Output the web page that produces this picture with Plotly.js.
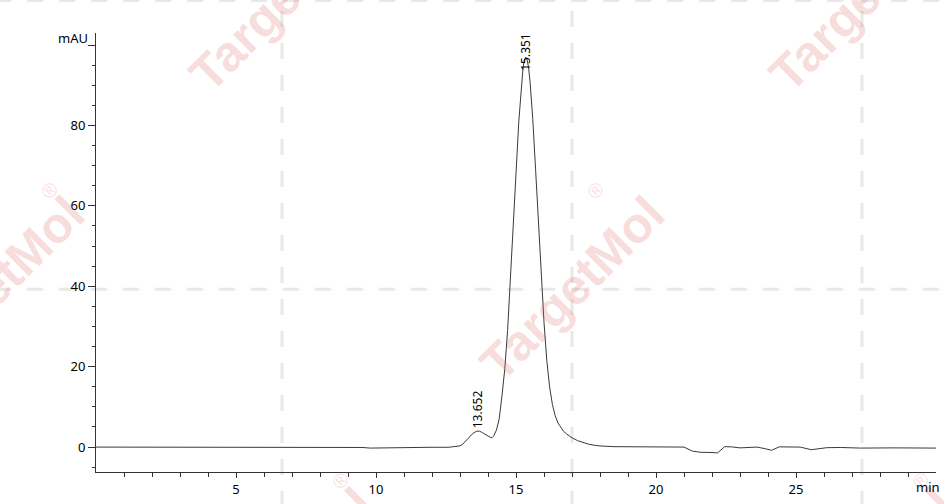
<!DOCTYPE html>
<html>
<head>
<meta charset="utf-8">
<script src="https://cdn.plot.ly/plotly-3.0.1.min.js"></script>
<style>
  html, body { margin: 0; padding: 0; background: #ffffff; }
  #chart { width: 944px; height: 504px; }
</style>
</head>
<body>
<div id="chart"></div>
<script>
// ---- data ----
var timeMin = [0, 2.9, 3.0, 3.6, 5, 9.5, 9.8, 10.3, 10.6, 12.0, 12.6, 12.9, 13.0, 13.1, 13.2, 13.3, 13.4, 13.5, 13.6, 13.65, 13.7, 13.8, 13.9, 14.0, 14.1, 14.15, 14.2, 14.3, 14.4, 14.5, 14.6, 14.7, 14.8, 14.9, 15.0, 15.1, 15.2, 15.25, 15.3, 15.35, 15.4, 15.45, 15.5, 15.6, 15.7, 15.8, 15.9, 16.0, 16.1, 16.2, 16.3, 16.4, 16.5, 16.6, 16.7, 16.8, 16.9, 17.0, 17.2, 17.4, 17.6, 17.8, 18.0, 18.5, 19.0, 20.0, 21.0, 21.3, 21.6, 22.0, 22.2, 22.45, 22.7, 23.0, 23.3, 23.6, 23.9, 24.13, 24.4, 24.8, 25.15, 25.55, 25.8, 26.1, 26.6, 27.3, 28.5, 30];
var signalMAU = [0, 0, -0.05, -0.1, -0.1, -0.1, -0.25, -0.2, -0.05, -0.05, -0.05, 0.1, 0.3, 0.75, 1.4, 2.2, 3.0, 3.6, 3.95, 4.0, 3.95, 3.6, 3.15, 2.7, 2.35, 2.35, 2.7, 4.2, 7.0, 12.8, 19.5, 29.0, 41.0, 54.0, 68.0, 81.0, 90.6, 94.3, 96.3, 97.0, 96.3, 94.3, 91.0, 81.5, 69.0, 55.5, 42.5, 31.0, 21.5, 15.0, 10.6, 7.8, 6.0, 4.8, 3.9, 3.3, 2.75, 2.3, 1.6, 1.05, 0.7, 0.45, 0.28, 0.1, 0.05, 0.0, 0.0, -1.0, -1.3, -1.35, -1.45, 0.1, 0.05, -0.2, -0.1, 0.0, -0.4, -0.8, 0.05, 0.05, 0.0, -0.65, -0.35, -0.15, -0.1, -0.25, -0.2, -0.25];

var peakTimes = [13.652, 15.351];
var peakLabels = ['13.652', '15.351'];
var peakLabelY = [4.0, 94.3];
var peakLabelShift = [1, -5];

var xTickVals = [5, 10, 15, 20, 25];
var xTickText = ['5', '10', '15', '20', '25'];
var xMinorVals = [1,2,3,4,6,7,8,9,11,12,13,14,16,17,18,19,21,22,23,24,26,27,28,29];
var yTickVals = [0, 20, 40, 60, 80, 100];
var yTickText = ['0', '20', '40', '60', '80', ''];
var yMinorVals = [-5,5,10,15,25,30,35,45,50,55,65,70,75,85,90,95];
var xUnit = 'min';
var yUnit = 'mAU';

// ---- watermark decoration (paper coordinates) ----
var wmX = [0.2214, 0.5667, 0.9119, -0.1238, 0.2214, 0.9119];
var wmY = [1.0775, 0.4165, 1.0775, 0.4165, -0.2450, -0.2450];
var regX = [0.5952, -0.0548, 0.2905, 0.9810];
var regY = [0.6422, 0.6422, -0.0194, -0.0194];
var gridVX = [0.22143, 0.56667, 0.91190];
var gridHY = [0.4165, 1.0741];

var wmColor = 'rgba(225,110,110,0.23)';
var shapes = [];
gridVX.forEach(function (gx) {
  shapes.push({type: 'line', xref: 'paper', yref: 'paper', x0: gx, x1: gx, y0: -0.08, y1: 1.08,
    layer: 'below', line: {color: '#e8e8e8', width: 3, dash: '16px,16px'}});
});
gridHY.forEach(function (gy) {
  shapes.push({type: 'line', xref: 'paper', yref: 'paper', x0: -0.12, x1: 1.02, y0: gy, y1: gy,
    layer: 'below', line: {color: '#e8e8e8', width: 3, dash: '16px,16px'}});
});

var annotations = [];
wmX.forEach(function (x, i) {
  annotations.push({xref: 'paper', yref: 'paper', x: x, y: wmY[i], text: '<b>TargetMol</b>',
    showarrow: false, textangle: -45, xanchor: 'center', yanchor: 'middle',
    font: {family: 'Liberation Sans, Arial, sans-serif', size: 50, color: wmColor}});
});
regX.forEach(function (x, i) {
  annotations.push({xref: 'paper', yref: 'paper', x: x, y: regY[i], text: '®',
    showarrow: false, textangle: -45, xanchor: 'center', yanchor: 'middle',
    font: {family: 'Liberation Sans, Arial, sans-serif', size: 20, color: wmColor}});
});
peakTimes.forEach(function (t, i) {
  annotations.push({xref: 'x', yref: 'y', x: t, y: peakLabelY[i], text: peakLabels[i],
    showarrow: false, textangle: -90, xanchor: 'center', yanchor: 'bottom', yshift: peakLabelShift[i],
    font: {family: 'Noto Sans, sans-serif', size: 12, color: '#000000'}});
});
annotations.push({xref: 'paper', yref: 'y', x: 0, y: 100, xanchor: 'right', yanchor: 'middle',
  xshift: -6, yshift: 7, text: yUnit, showarrow: false,
  font: {family: 'Noto Sans, sans-serif', size: 13, color: '#000000'}});
annotations.push({xref: 'x', yref: 'paper', x: 29.72, y: 0, xanchor: 'center', yanchor: 'top',
  yshift: -4, text: xUnit, showarrow: false,
  font: {family: 'Noto Sans, sans-serif', size: 13, color: '#000000'}});

var trace = {
  type: 'scatter', mode: 'lines', x: timeMin, y: signalMAU,
  line: {color: '#3a3a3a', width: 1}, hoverinfo: 'skip', showlegend: false
};

var layout = {
  width: 944, height: 504,
  margin: {l: 96, r: 8, t: 33, b: 32, pad: 0},
  paper_bgcolor: '#ffffff', plot_bgcolor: 'rgba(0,0,0,0)',
  showlegend: false,
  font: {family: 'Noto Sans, sans-serif', size: 13, color: '#000000'},
  xaxis: {
    range: [0, 30], showgrid: false, zeroline: false,
    showline: true, linecolor: '#333333', linewidth: 1,
    tickmode: 'array', tickvals: xTickVals, ticktext: xTickText,
    ticks: 'outside', ticklen: 5, tickcolor: '#333333', tickwidth: 1,
    tickfont: {family: 'Noto Sans, sans-serif', size: 13, color: '#000000'},
    minor: {tickmode: 'array', tickvals: xMinorVals, ticks: 'outside', ticklen: 4, tickcolor: '#333333', showgrid: false}
  },
  yaxis: {
    range: [-6.2, 103], showgrid: false, zeroline: false,
    showline: true, linecolor: '#333333', linewidth: 1,
    tickmode: 'array', tickvals: yTickVals, ticktext: yTickText,
    ticks: 'outside', ticklen: 7, tickcolor: '#333333', tickwidth: 1,
    tickfont: {family: 'Noto Sans, sans-serif', size: 13, color: '#000000'},
    minor: {tickmode: 'array', tickvals: yMinorVals, ticks: 'outside', ticklen: 3, tickcolor: '#333333', showgrid: false}
  },
  shapes: shapes,
  annotations: annotations
};

Plotly.newPlot('chart', [trace], layout, {staticPlot: true, displayModeBar: false});
</script>
</body>
</html>
